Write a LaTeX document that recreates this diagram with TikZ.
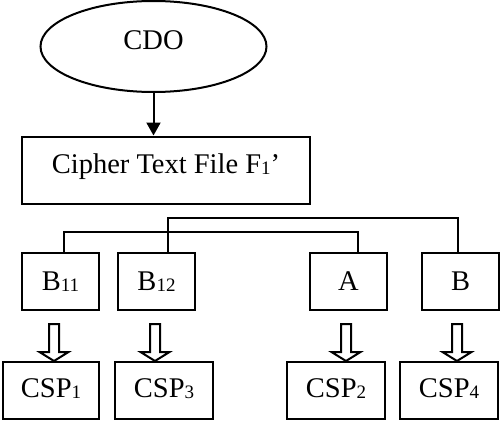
\documentclass[tikz,border=0pt]{standalone}
\usepackage{fontspec}
\setmainfont{Liberation Serif}
\usetikzlibrary{arrows.meta,shapes.geometric}
\newcommand{\sbs}[1]{\raisebox{-1pt}{\fontsize{19}{19}\selectfont #1}}
\tikzset{
  box/.style={draw, line width=2pt, rectangle, inner sep=0pt, font=\fontsize{28.5}{30}\selectfont},
  conn/.style={line width=2pt},
  barrow/.pic={\draw[line width=2pt, line join=miter, fill=white] (-5,0) -- (-5,28) -- (-14.5,28) -- (0,37) -- (14.5,28) -- (5,28) -- (5,0) -- cycle;}
}
\begin{document}
\begin{tikzpicture}[x=1pt,y=-1pt]
\useasboundingbox (0,0) rectangle (500,420);
% top ellipse
\node[box, ellipse, minimum width=226pt, minimum height=91pt, text depth=14pt, text height=19pt] (CDO) at (153.5,46.5) {CDO};
% cipher box
\node[box, minimum width=288pt, minimum height=67pt, text height=20pt, text depth=13pt] (cipher) at (166,170) {Cipher Text File F\sbs{1}’};
% row 1
\node[box, minimum width=77pt, minimum height=57pt] (B11) at (60.5,281.5) {B\sbs{11}};
\node[box, minimum width=77pt, minimum height=57pt] (B12) at (156.5,281.5) {B\sbs{12}};
\node[box, minimum width=77pt, minimum height=57pt] (A) at (348.5,281.5) {A};
\node[box, minimum width=77pt, minimum height=57pt] (B) at (460.5,281.5) {B};
% row 2
\node[box, minimum width=96pt, minimum height=57pt, text depth=5pt] (CSP1) at (51,390.5) {CSP\sbs{1}};
\node[box, minimum width=98pt, minimum height=57pt, text depth=5pt] (CSP3) at (164,390.5) {CSP\sbs{3}};
\node[box, minimum width=98pt, minimum height=57pt, text depth=5pt] (CSP2) at (336,390.5) {CSP\sbs{2}};
\node[box, minimum width=98pt, minimum height=57pt, text depth=5pt] (CSP4) at (449,390.5) {CSP\sbs{4}};
% arrow CDO -> cipher
\draw[conn, -{Triangle[width=14pt,length=13pt]}] (CDO.south) -- (CDO.south |- cipher.north);
% tree lines
\draw[conn] ([xshift=11.5pt]B12.north) -- ([xshift=11.5pt]B12.north |- 0,218) -| ([xshift=-2.5pt]B.north);
\draw[conn] ([xshift=3.5pt]B11.north) -- ([xshift=3.5pt]B11.north |- 0,232) -| ([xshift=9.5pt]A.north);
% block arrows
\pic at (54,324) {barrow};
\pic at (155,324) {barrow};
\pic at (346,324) {barrow};
\pic at (457,324) {barrow};
\end{tikzpicture}
\end{document}
